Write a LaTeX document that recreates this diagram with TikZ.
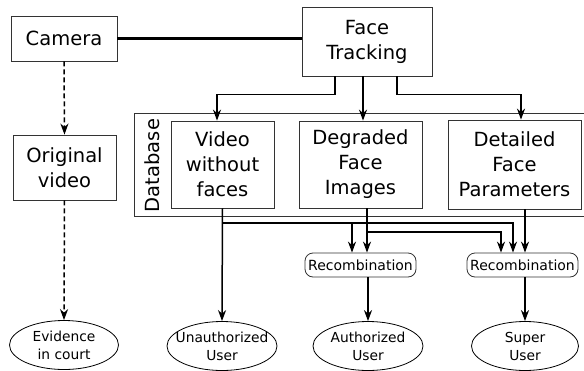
\documentclass[tikz,border=0pt]{standalone}
\usepackage{fontspec}
\setmainfont{DejaVu Sans}
\usepackage{tikz}
\usetikzlibrary{arrows.meta, shapes.geometric}

\begin{document}
\begin{tikzpicture}[
    x=1pt, y=-1pt,
    box/.style={rectangle, draw=black!80, line width=0.8pt, align=center, font=\fontsize{19.5}{25}\selectfont, inner sep=0pt},
    dbbox/.style={rectangle, draw=black!80, line width=0.8pt, minimum width=454pt, minimum height=103pt},
    recomb/.style={rectangle, draw=black!80, line width=0.8pt, rounded corners=8pt, minimum width=111pt, minimum height=24pt, font=\fontsize{14}{16}\selectfont, inner sep=0pt},
    user/.style={ellipse, draw=black, line width=0.8pt, minimum width=109pt, minimum height=49pt, inner sep=0pt},
    usertext/.style={align=center, font=\fontsize{13.8}{18}\selectfont},
    arrow/.style={-{Stealth[length=11pt, width=8pt, inset=3.5pt]}, line width=1.5pt, black},
    dashedarrow/.style={arrow, dash pattern=on 5pt off 3pt}
]
    \useasboundingbox (0,0) rectangle (584,370);

    % Capture
    \node[box, minimum width=106pt, minimum height=45pt] (camera) at (64,38.5) {Camera};
    \node[box, minimum width=130pt, minimum height=69pt] (tracking) at (367,41.5) {Face\\Tracking};
    \node[box, minimum width=103pt, minimum height=65pt] (original) at (64.5,167.5) {Original\\video};

    % Database
    \node[dbbox] (db) at (361,164.5) {};
    \node[rotate=90, font=\fontsize{19.5}{25}\selectfont] (dblabel) at (152.5,165.5) {Database};
    \node[box, minimum width=103pt, minimum height=87pt] (video) at (222.5,164.5) {Video\\without\\faces};
    \node[box, minimum width=123pt, minimum height=87pt] (degraded) at (360.5,164.5) {Degraded\\Face\\Images};
    \node[box, minimum width=133pt, minimum height=89pt] (detailed) at (514.5,164.5) {Detailed\\Face\\Parameters};

    % Recombination
    \node[recomb] (recA) at (360.5,265) {Recombination};
    \node[recomb] (recB) at (522.5,265) {Recombination};

    % Users
    \node[user, label={[usertext]center:Evidence\\in court}] (court) at (64,345) {};
    \node[user, minimum width=110pt, label={[usertext]center:Unauthorized\\User}] (unauth) at (222,346) {};
    \node[user, minimum width=110pt, label={[usertext]center:Authorized\\User}] (auth) at (368,346) {};
    \node[user, minimum width=107pt, label={[usertext]center:Super\\User}] (super) at (525,346) {};

    % Connections
    \draw[line width=2.8pt] (camera.east) -- (camera.east -| tracking.west);
    \draw[dashedarrow] (camera.south) -- (original.north);
    \draw[dashedarrow] (original.south) -- (court.north);

    \draw[arrow] ([xshift=-32pt]tracking.south) -- ++(0,18) -| ([xshift=-5.5pt]video.north);
    \draw[arrow] ([xshift=-4pt]tracking.south) -- ([xshift=-4pt]tracking.south |- degraded.north);
    \draw[arrow] ([xshift=30pt]tracking.south) -- ++(0,18) -| ([xshift=6.5pt]detailed.north);

    % Bus lines below the database
    \coordinate (busA) at (video.south |- 0,223);
    \coordinate (busB) at ([xshift=6.5pt]degraded.south |- 0,232);
    \draw[arrow] (video.south) -- (unauth.north);
    \draw[arrow] (busA) -| ([xshift=-8.5pt]recA.north);
    \draw[arrow] (busA) -| ([xshift=-9.5pt]recB.north);
    \draw[arrow] ([xshift=6.5pt]degraded.south) -- ([xshift=6.5pt]recA.north);
    \draw[arrow] (busB) -| ([xshift=-21.5pt]recB.north);
    \draw[arrow] ([xshift=10.5pt]detailed.south) -- ([xshift=2.5pt]recB.north);

    \draw[arrow] ([xshift=7.5pt]recA.south) -- (auth.north);
    \draw[arrow] ([xshift=2.5pt]recB.south) -- (super.north);
\end{tikzpicture}
\end{document}
